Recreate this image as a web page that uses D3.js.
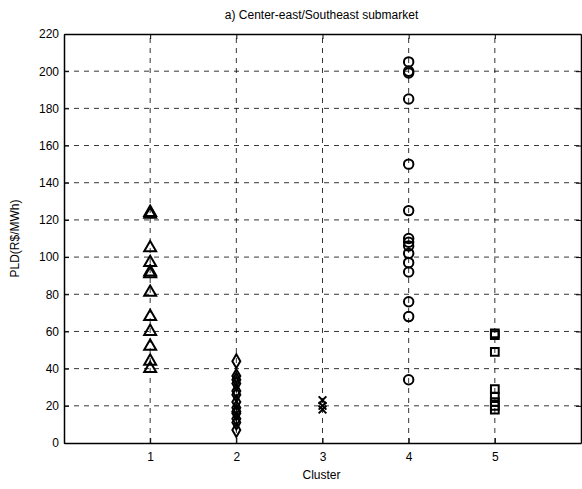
<!DOCTYPE html>
<html>
<head>
<meta charset="utf-8">
<script src="https://cdn.jsdelivr.net/npm/d3@7/dist/d3.min.js"></script>
<style>
  body { margin: 0; background: #fff; }
  svg { display: block; }
</style>
</head>
<body>
<script>
// ── data ───────────────────────────────────────────────────────────────
var clusters   = [1, 2, 3, 4, 5];
var cluster1   = [124, 123, 105, 97, 92, 91, 81, 68, 60, 52, 44, 40];
var cluster2   = [44, 36, 34, 32, 28, 26, 22, 19, 17, 16, 13, 11, 7];
var cluster3   = [23, 20, 18];
var cluster4   = [205, 200, 199, 185, 150, 125, 110, 108, 106, 102, 97, 92, 76, 68, 34];
var cluster5   = [59, 58, 49, 29, 25, 22, 20, 18];
var yTicks     = [0, 20, 40, 60, 80, 100, 120, 140, 160, 180, 200, 220];
var series     = [
  { x: 1, values: cluster1, marker: 'triangle' },
  { x: 2, values: cluster2, marker: 'diamond' },
  { x: 3, values: cluster3, marker: 'cross' },
  { x: 4, values: cluster4, marker: 'circle' },
  { x: 5, values: cluster5, marker: 'square' }
];

// ── geometry ───────────────────────────────────────────────────────────
var W = 582, H = 489;
var m = { left: 64, right: 1, top: 34, bottom: 46 };
var font = '"Liberation Sans", Arial, sans-serif';

var svg = d3.select('body').append('svg').attr('width', W).attr('height', H);

var x = d3.scaleLinear().domain([0, 6]).range([m.left, W - m.right]);
var y = d3.scaleLinear().domain([0, 220]).range([H - m.bottom, m.top]);

// ── grid ───────────────────────────────────────────────────────────────
var grid = svg.append('g');
clusters.forEach(function (c) {
  grid.append('line')
    .attr('x1', x(c)).attr('x2', x(c))
    .attr('y1', y(0)).attr('y2', y(220))
    .attr('stroke', '#000').attr('stroke-width', 0.8)
    .attr('stroke-dasharray', '5,5');
});
yTicks.slice(1, -1).forEach(function (v) {
  grid.append('line')
    .attr('x1', x(0)).attr('x2', x(6))
    .attr('y1', y(v)).attr('y2', y(v))
    .attr('stroke', '#000').attr('stroke-width', 0.8)
    .attr('stroke-dasharray', '5,5');
});

// ── axes ───────────────────────────────────────────────────────────────
var xAxis = svg.append('g')
  .attr('transform', 'translate(0,' + y(0) + ')')
  .call(d3.axisBottom(x).tickValues(clusters).tickFormat(d3.format('d'))
    .tickSizeInner(-5).tickSizeOuter(0).tickPadding(9));
var xTop = svg.append('g')
  .attr('transform', 'translate(0,' + y(220) + ')')
  .call(d3.axisTop(x).tickValues(clusters).tickSizeInner(-5).tickSizeOuter(0).tickFormat(''));
var yAxis = svg.append('g')
  .attr('transform', 'translate(' + x(0) + ',0)')
  .call(d3.axisLeft(y).tickValues(yTicks).tickSizeInner(-5).tickSizeOuter(0).tickPadding(5));
var yRight = svg.append('g')
  .attr('transform', 'translate(' + x(6) + ',0)')
  .call(d3.axisRight(y).tickValues(yTicks).tickSizeInner(-5).tickSizeOuter(0).tickFormat(''));

[xAxis, xTop, yAxis, yRight].forEach(function (g) {
  g.select('.domain').attr('stroke', '#000').attr('stroke-width', 1.5);
  g.selectAll('.tick line').attr('stroke', '#000').attr('stroke-width', 1);
  g.selectAll('.tick text')
    .attr('font-family', font).attr('font-size', '12px').attr('fill', '#000');
});

// ── markers ────────────────────────────────────────────────────────────
var shapes = {
  triangle: d3.symbol().type(d3.symbolTriangle).size(62),
  diamond:  d3.symbol().type(d3.symbolDiamond).size(55),
  cross:    d3.symbol().type(d3.symbolX).size(40),
  circle:   d3.symbol().type(d3.symbolCircle).size(70),
  square:   d3.symbol().type(d3.symbolSquare).size(60)
};

series.forEach(function (s) {
  svg.append('g').selectAll('path')
    .data(s.values)
    .join('path')
    .attr('transform', function (v) { return 'translate(' + x(s.x) + ',' + y(v) + ')'; })
    .attr('d', shapes[s.marker]())
    .attr('fill', 'none')
    .attr('stroke', '#000')
    .attr('stroke-width', 2);
});

// ── labels ─────────────────────────────────────────────────────────────
svg.append('text')
  .attr('x', (x(0) + x(6)) / 2 - 1).attr('y', 19)
  .attr('text-anchor', 'middle')
  .attr('font-family', font).attr('font-size', '12px')
  .text('a) Center-east/Southeast submarket');

svg.append('text')
  .attr('x', (x(0) + x(6)) / 2 - 1).attr('y', H - 10)
  .attr('text-anchor', 'middle')
  .attr('font-family', font).attr('font-size', '12px')
  .text('Cluster');

svg.append('text')
  .attr('transform', 'translate(19,' + (y(110)) + ') rotate(-90)')
  .attr('text-anchor', 'middle')
  .attr('font-family', font).attr('font-size', '12px')
  .text('PLD(R$/MWh)');
</script>
</body>
</html>
